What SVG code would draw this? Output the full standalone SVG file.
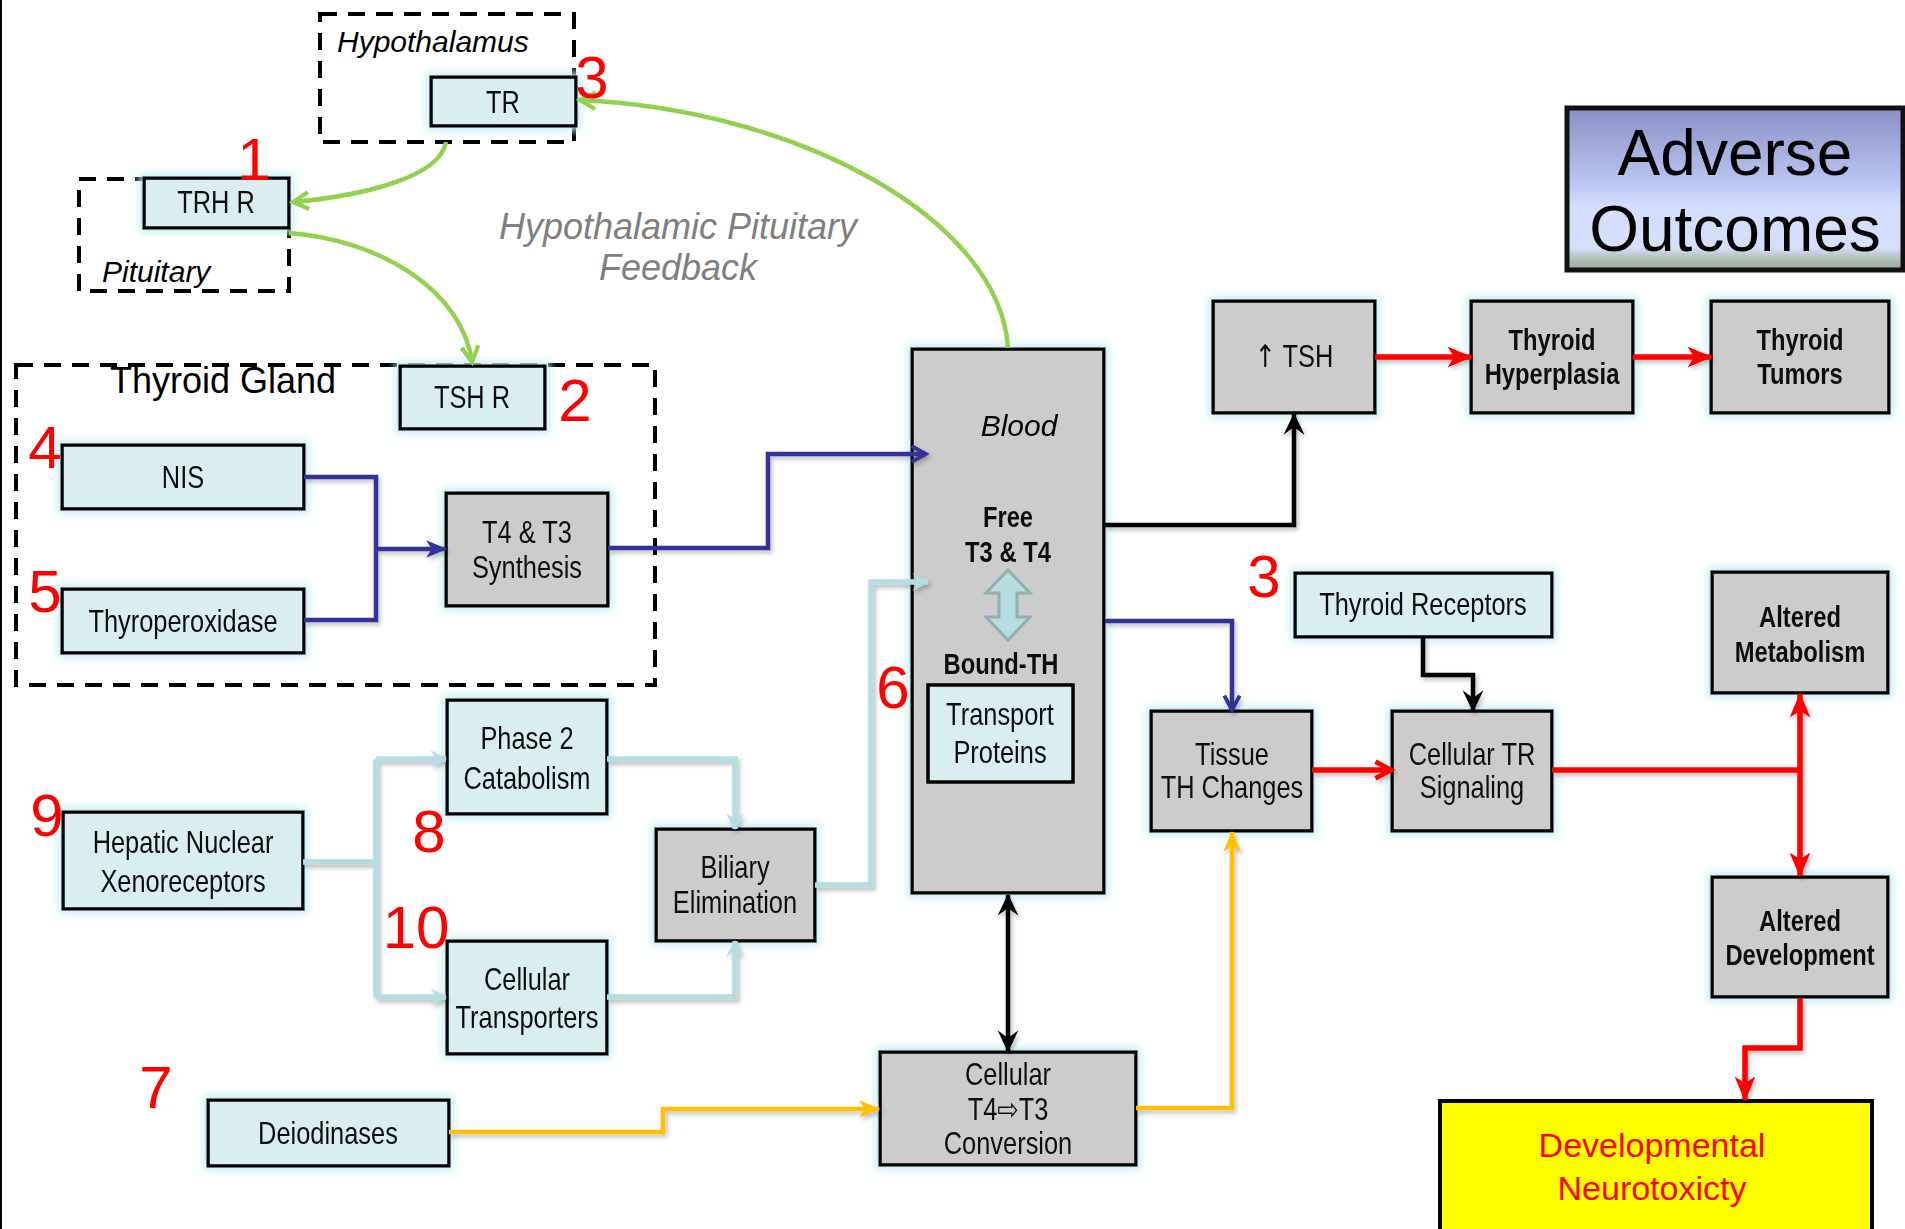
<svg xmlns="http://www.w3.org/2000/svg" width="1905" height="1229" viewBox="0 0 1905 1229">
<style>
.n{font-family:'Liberation Sans',Arial,sans-serif;font-size:31px;fill:#111;text-anchor:middle;transform-box:fill-box;transform-origin:center;transform:scaleX(0.82)}
.b{font-weight:bold;font-size:29px}
.num{font-family:'Liberation Sans',Arial,sans-serif;font-size:60px;fill:#ff0000;text-anchor:middle}
.it{font-family:'Liberation Sans',Arial,sans-serif;font-style:italic;font-size:30px;fill:#000}
.lb{fill:#daeef2;stroke:#000;stroke-width:3.5}
.gb{fill:#cccccc;stroke:#000;stroke-width:3.5}
.dash{fill:none;stroke:#000;stroke-width:4;stroke-dasharray:17 11}
.c{fill:none;stroke-linejoin:miter}
.blue{stroke:#333399;stroke-width:4.5}
.lt{stroke:#b7dde4;stroke-width:5.5}
.yel{stroke:#ffc000;stroke-width:4.5}
.red{stroke:#ff0000;stroke-width:5.5}
.blk{stroke:#000;stroke-width:4.5}
.grn{stroke:#92d050;stroke-width:4.5}
</style>
<defs>
<filter id="glow" x="-20%" y="-20%" width="140%" height="140%">
<feMorphology in="SourceAlpha" operator="dilate" radius="3" result="d"/>
<feGaussianBlur in="d" stdDeviation="4" result="bl"/>
<feFlood flood-color="#c6eef4"/>
<feComposite in2="bl" operator="in" result="g"/>
<feMerge><feMergeNode in="g"/><feMergeNode in="SourceGraphic"/></feMerge>
</filter>
<filter id="sh" x="-10%" y="-10%" width="120%" height="120%">
<feDropShadow dx="2" dy="3" stdDeviation="2" flood-color="#000" flood-opacity="0.25"/>
</filter>
<linearGradient id="ao" x1="0" y1="0" x2="0" y2="1">
<stop offset="0" stop-color="#8a8fc6"/>
<stop offset="0.45" stop-color="#b9c4f0"/>
<stop offset="0.6" stop-color="#d3ddfd"/>
<stop offset="0.86" stop-color="#d6e0fb"/>
<stop offset="0.92" stop-color="#b7c4c2"/>
<stop offset="1" stop-color="#97a894"/>
</linearGradient>
<marker id="aBlue" viewBox="0 0 20 20" refX="17" refY="10" markerWidth="22" markerHeight="22" markerUnits="userSpaceOnUse" orient="auto"><path d="M4,3 L17,10 L4,17" fill="none" stroke="#333399" stroke-width="3.5"/></marker>
<marker id="sBlue" viewBox="0 0 20 20" refX="18" refY="10" markerWidth="22" markerHeight="22" markerUnits="userSpaceOnUse" orient="auto"><path d="M0,2 L19,10 L0,18 L5,10 Z" fill="#333399"/></marker>
<marker id="aLt" viewBox="0 0 20 20" refX="17" refY="10" markerWidth="22" markerHeight="22" markerUnits="userSpaceOnUse" orient="auto"><path d="M3,2 L18,10 L3,18 L8,10 Z" fill="#b7dde4"/></marker>
<marker id="aYel" viewBox="0 0 20 20" refX="18" refY="10" markerWidth="22" markerHeight="22" markerUnits="userSpaceOnUse" orient="auto"><path d="M0,2 L19,10 L0,18 L5,10 Z" fill="#ffc000"/></marker>
<marker id="aRed" viewBox="0 0 20 20" refX="17" refY="10" markerWidth="24" markerHeight="24" markerUnits="userSpaceOnUse" orient="auto"><path d="M4,3 L17,10 L4,17" fill="none" stroke="#ff0000" stroke-width="4"/></marker>
<marker id="sRed" viewBox="0 0 20 20" refX="18" refY="10" markerWidth="26" markerHeight="26" markerUnits="userSpaceOnUse" orient="auto-start-reverse"><path d="M0,2 L19,10 L0,18 L5,10 Z" fill="#ff0000"/></marker>
<marker id="aBlk" viewBox="0 0 20 20" refX="18" refY="10" markerWidth="26" markerHeight="26" markerUnits="userSpaceOnUse" orient="auto-start-reverse"><path d="M2,2 L19,10 L2,18 L8,10 Z" fill="#000"/></marker>
<marker id="aGrn" viewBox="0 0 20 20" refX="17" refY="10" markerWidth="24" markerHeight="24" markerUnits="userSpaceOnUse" orient="auto"><path d="M4,3 L17,10 L4,17" fill="none" stroke="#92d050" stroke-width="3.5"/></marker>
</defs>
<rect width="1905" height="1229" fill="#fff"/>
<line x1="1" y1="0" x2="1" y2="1229" stroke="#000" stroke-width="2"/>

<!-- Dashed regions -->
<g id="hypothalamus-region">
<rect class="dash" x="320" y="14" width="254" height="128"/>
<text class="it" x="337" y="52">Hypothalamus</text>
</g>
<g id="pituitary-region">
<rect class="dash" x="79" y="179" width="210" height="112"/>
<text class="it" x="102" y="282">Pituitary</text>
</g>
<g id="thyroid-region">
<rect class="dash" x="16" y="365" width="639" height="320"/>
<text x="110" y="393" style="font-family:'Liberation Sans',Arial,sans-serif;font-size:36px;fill:#000">Thyroid Gland</text>
</g>

<text x="678" y="239" style="font-family:'Liberation Sans',Arial,sans-serif;font-style:italic;font-size:36px;fill:#7f7f7f;text-anchor:middle">Hypothalamic Pituitary</text>
<text x="678" y="280" style="font-family:'Liberation Sans',Arial,sans-serif;font-style:italic;font-size:36px;fill:#7f7f7f;text-anchor:middle">Feedback</text>

<!-- Nodes -->
<g id="node-tr" filter="url(#glow)"><rect class="lb" x="431" y="77" width="145" height="49"/><text class="n" x="503" y="113">TR</text></g>
<g id="node-trhr" filter="url(#glow)"><rect class="lb" x="144" y="178" width="145" height="50"/><text class="n" x="216" y="213">TRH R</text></g>
<g id="node-tshr" filter="url(#glow)"><rect class="lb" x="400" y="366" width="145" height="63"/><text class="n" x="472" y="408">TSH R</text></g>
<g id="node-nis" filter="url(#glow)"><rect class="lb" x="62" y="445" width="242" height="64"/><text class="n" x="183" y="488">NIS</text></g>
<g id="node-tpo" filter="url(#glow)"><rect class="lb" x="62" y="589" width="242" height="64"/><text class="n" x="183" y="632">Thyroperoxidase</text></g>
<g id="node-synth" filter="url(#glow)"><rect class="gb" x="446" y="493" width="162" height="113"/><text class="n" x="527" y="543">T4 &amp; T3</text><text class="n" x="527" y="578">Synthesis</text></g>
<g id="node-phase2" filter="url(#glow)"><rect class="lb" x="447" y="700" width="160" height="114"/><text class="n" x="527" y="749">Phase 2</text><text class="n" x="527" y="789">Catabolism</text></g>
<g id="node-hnx" filter="url(#glow)"><rect class="lb" x="63" y="812" width="240" height="97"/><text class="n" x="183" y="853">Hepatic Nuclear</text><text class="n" x="183" y="892">Xenoreceptors</text></g>
<g id="node-ctrans" filter="url(#glow)"><rect class="lb" x="447" y="941" width="160" height="113"/><text class="n" x="527" y="990">Cellular</text><text class="n" x="527" y="1028">Transporters</text></g>
<g id="node-biliary" filter="url(#glow)"><rect class="gb" x="656" y="829" width="159" height="112"/><text class="n" x="735" y="878">Biliary</text><text class="n" x="735" y="913">Elimination</text></g>
<g id="node-deiod" filter="url(#glow)"><rect class="lb" x="208" y="1100" width="241" height="66"/><text class="n" x="328" y="1144">Deiodinases</text></g>
<g id="node-blood" filter="url(#glow)">
<rect class="gb" x="912" y="349" width="192" height="544"/>
<text x="1019" y="436" style="font-family:'Liberation Sans',Arial,sans-serif;font-style:italic;font-size:30px;fill:#000;text-anchor:middle">Blood</text>
<text class="n b" x="1008" y="527">Free</text>
<text class="n b" x="1008" y="562">T3 &amp; T4</text>
<polygon points="1008,570 1030,593 1017,593 1017,617 1030,617 1008,640 986,617 999,617 999,593 986,593" fill="#b7dde0" stroke="#8fb0b4" stroke-width="3"/>
<text class="n b" x="1001" y="674">Bound-TH</text>
<rect class="lb" x="928" y="685" width="145" height="97"/>
<text class="n" x="1000" y="725">Transport</text>
<text class="n" x="1000" y="763">Proteins</text>
</g>
<g id="node-conv" filter="url(#glow)"><rect class="gb" x="880" y="1052" width="256" height="113"/><text class="n" x="1008" y="1085">Cellular</text><text class="n" x="1008" y="1120">T4<tspan style="font-family:'DejaVu Sans',sans-serif">⇨</tspan>T3</text><text class="n" x="1008" y="1154">Conversion</text></g>
<g id="node-tsh" filter="url(#glow)"><rect class="gb" x="1213" y="301" width="162" height="112"/><text class="n" x="1294" y="367"><tspan style="font-family:'DejaVu Sans',sans-serif">↑</tspan> TSH</text></g>
<g id="node-hyper" filter="url(#glow)"><rect class="gb" x="1471" y="301" width="162" height="112"/><text class="n b" x="1552" y="350">Thyroid</text><text class="n b" x="1552" y="384">Hyperplasia</text></g>
<g id="node-tumors" filter="url(#glow)"><rect class="gb" x="1711" y="301" width="178" height="112"/><text class="n b" x="1800" y="350">Thyroid</text><text class="n b" x="1800" y="384">Tumors</text></g>
<g id="node-receptors" filter="url(#glow)"><rect class="lb" x="1295" y="573" width="257" height="64"/><text class="n" x="1423" y="615">Thyroid Receptors</text></g>
<g id="node-tissue" filter="url(#glow)"><rect class="gb" x="1151" y="711" width="161" height="120"/><text class="n" x="1232" y="765">Tissue</text><text class="n" x="1232" y="798">TH Changes</text></g>
<g id="node-ctr" filter="url(#glow)"><rect class="gb" x="1392" y="711" width="160" height="120"/><text class="n" x="1472" y="765">Cellular TR</text><text class="n" x="1472" y="798">Signaling</text></g>
<g id="node-metab" filter="url(#glow)"><rect class="gb" x="1712" y="572" width="176" height="121"/><text class="n b" x="1800" y="627">Altered</text><text class="n b" x="1800" y="662">Metabolism</text></g>
<g id="node-dev" filter="url(#glow)"><rect class="gb" x="1712" y="877" width="176" height="120"/><text class="n b" x="1800" y="931">Altered</text><text class="n b" x="1800" y="965">Development</text></g>
<g id="node-dnt"><rect x="1440" y="1101" width="432" height="134" fill="#ffff00" stroke="#000" stroke-width="4"/><text x="1652" y="1157" style="font-family:'Liberation Sans',Arial,sans-serif;font-size:34px;fill:#ff0000;text-anchor:middle">Developmental</text><text x="1652" y="1200" style="font-family:'Liberation Sans',Arial,sans-serif;font-size:34px;fill:#ff0000;text-anchor:middle">Neurotoxicty</text></g>
<g id="node-ao"><rect x="1567" y="108" width="336" height="162" fill="url(#ao)" stroke="#111" stroke-width="5"/><text x="1735" y="175" style="font-family:'Liberation Sans',Arial,sans-serif;font-size:64px;fill:#000;text-anchor:middle">Adverse</text><text x="1735" y="251" style="font-family:'Liberation Sans',Arial,sans-serif;font-size:64px;fill:#000;text-anchor:middle">Outcomes</text></g>

<!-- Connectors -->
<g id="connectors" class="c">
<path class="grn" d="M446,142 C440,178 360,196 293,202" marker-end="url(#aGrn)"/>
<path class="grn" d="M289,233 C380,240 462,290 472,362" marker-end="url(#aGrn)"/>
<path class="grn" d="M1008,348 C1000,220 800,110 580,100" marker-end="url(#aGrn)"/>

<g filter="url(#sh)">
<path class="blue" d="M304,477 H376 V620 H304"/>
<path class="blue" d="M376,549 H446" marker-end="url(#sBlue)"/>
<path class="blue" d="M608,548 H768 V454 H926" marker-end="url(#aBlue)"/>
<path class="blue" d="M1105,621 H1232 V710" marker-end="url(#aBlue)"/>

<path class="lt" d="M303,862 H376"/>
<path class="lt" d="M376,759 V997"/>
<path class="lt" d="M376,759 H446" marker-end="url(#aLt)"/>
<path class="lt" d="M376,997 H446" marker-end="url(#aLt)"/>
<path class="lt" d="M607,759 H735 V829" marker-end="url(#aLt)"/>
<path class="lt" d="M607,997 H735 V941" marker-end="url(#aLt)"/>
<path class="lt" d="M815,885 H871 V582 H928" marker-end="url(#aLt)"/>

<path class="yel" d="M449,1132 H663 V1109 H879" marker-end="url(#aYel)"/>
<path class="yel" d="M1136,1108 H1232 V832" marker-end="url(#aYel)"/>

<path class="blk" d="M1105,525 H1294 V414" marker-end="url(#aBlk)"/>
<path class="blk" d="M1423,637 V675 H1473 V711" marker-end="url(#aBlk)"/>
<path class="blk" d="M1008,895 V1051" marker-start="url(#aBlk)" marker-end="url(#aBlk)"/>

<path class="red" d="M1375,357 H1471" marker-end="url(#sRed)"/>
<path class="red" d="M1633,357 H1711" marker-end="url(#sRed)"/>
<path class="red" d="M1312,770 H1391" marker-end="url(#aRed)"/>
<path class="red" d="M1552,770 H1800"/>
<path class="red" d="M1800,694 V876" marker-start="url(#sRed)" marker-end="url(#sRed)"/>
<path class="red" d="M1800,998 V1048 H1745 V1100" marker-end="url(#sRed)"/>
</g>
</g>

<!-- Red step numbers -->
<g id="labels">
<text class="num" x="254" y="180">1</text>
<text class="num" x="592" y="98">3</text>
<text class="num" x="575" y="421">2</text>
<text class="num" x="45" y="468">4</text>
<text class="num" x="45" y="612">5</text>
<text class="num" x="893" y="708">6</text>
<text class="num" x="1264" y="597">3</text>
<text class="num" x="47" y="836">9</text>
<text class="num" x="429" y="852">8</text>
<text class="num" x="416" y="948">10</text>
<text class="num" x="156" y="1108">7</text>
</g>
</svg>
